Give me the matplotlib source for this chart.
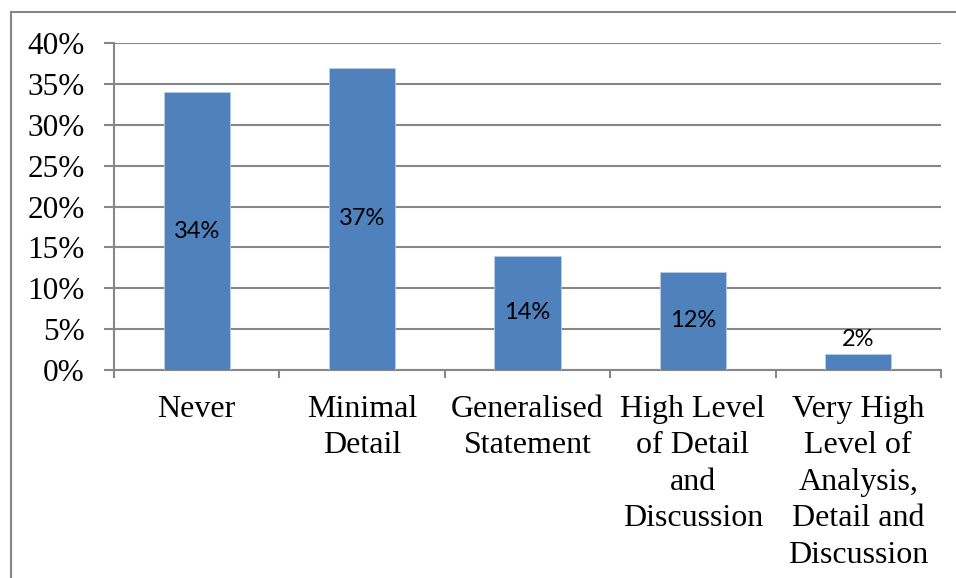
import numpy as np
from matplotlib import pyplot as plt
from matplotlib.lines import Line2D

# categories and shares (percent)
categories = ['Never', 'Minimal\nDetail', 'Generalised\nStatement',
              'High Level\nof Detail\nand\nDiscussion',
              'Very High\nLevel of\nAnalysis,\nDetail and\nDiscussion']
values = [34, 37, 14, 12, 2]
yticks = [0, 5, 10, 15, 20, 25, 30, 35, 40]

grey = '#878787'
blue = '#4F81BD'

fig = plt.figure(figsize=(9.56, 5.78), dpi=100)
ax = fig.add_axes([114/956, 1-370/578, (941-114)/956, (370-43)/578])

x = np.arange(len(values))
bars = ax.bar(x, values, width=0.4, color=blue, edgecolor='#B9CDE5', linewidth=0.6, zorder=3)

for xi, v in zip(x, values):
    if v > 5:
        ax.text(xi, v/2, '%d%%' % v, ha='center', va='center', fontsize=17,
                family='Lato', color='black', zorder=4)
    else:
        ax.text(xi, v+0.4, '%d%%' % v, ha='center', va='bottom', fontsize=17,
                family='Lato', color='black', zorder=4)

ax.set_xlim(-0.5, len(values)-0.5)
ax.set_ylim(0, 40)
ax.set_yticks(yticks)
ax.set_yticklabels(['%d%%' % t for t in yticks], family='Liberation Serif', fontsize=22.5)
ax.yaxis.grid(True, color=grey, linewidth=1.5, zorder=0)
ax.set_axisbelow(True)

# category labels centred, tick marks between categories
ax.set_xticks(x)
ax.set_xticklabels(categories, family='Liberation Serif', fontsize=23, linespacing=1.34)
ax.set_xticks(np.arange(-0.5, len(values)), minor=True)
ax.tick_params(axis='x', which='major', length=0, pad=18)
ax.tick_params(axis='x', which='minor', length=6, width=1.5, color=grey)
ax.tick_params(axis='y', length=7, width=1.5, color=grey, pad=14)

for s in ['top', 'right']:
    ax.spines[s].set_visible(False)
for s in ['left', 'bottom']:
    ax.spines[s].set_color(grey)
    ax.spines[s].set_linewidth(1.5)

# outer frame
fx = 11/956
fy = 1-12/578
fig.add_artist(Line2D([fx, fx], [0, fy], transform=fig.transFigure, color=grey, linewidth=1.5))
fig.add_artist(Line2D([fx, 1], [fy, fy], transform=fig.transFigure, color=grey, linewidth=1.5))

plt.savefig('out.png', dpi=100)
